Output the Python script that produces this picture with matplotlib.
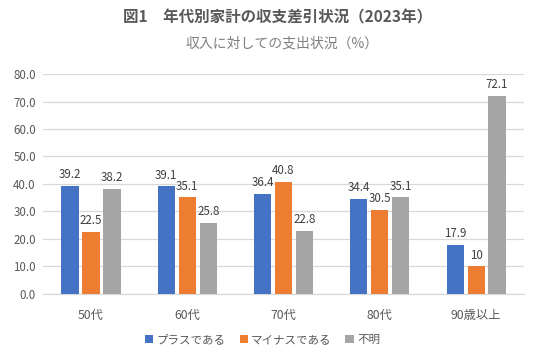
import numpy as np
import matplotlib
matplotlib.use("Agg")
import matplotlib.pyplot as plt

plt.rcParams["font.family"] = ["Noto Sans CJK JP", "DejaVu Sans"]

categories = ["50代", "60代", "70代", "80代", "90歳以上"]
plus_vals = [39.2, 39.1, 36.4, 34.4, 17.9]
minus_vals = [22.5, 35.1, 40.8, 30.5, 10]
unknown_vals = [38.2, 25.8, 22.8, 35.1, 72.1]
plus_labels = ["39.2", "39.1", "36.4", "34.4", "17.9"]
minus_labels = ["22.5", "35.1", "40.8", "30.5", "10"]
unknown_labels = ["38.2", "25.8", "22.8", "35.1", "72.1"]
series_names = ["プラスである", "マイナスである", "不明"]

COLORS = ["#4472C4", "#ED7D31", "#A5A5A5"]
TXT = "#595959"

fig = plt.figure(figsize=(5.36, 3.57), dpi=100)
ax = fig.add_axes([0.080, 0.1765, 0.898, 0.6162])

x = np.arange(len(categories))
w = 0.178
step = 0.218
series = [(plus_vals, plus_labels), (minus_vals, minus_labels), (unknown_vals, unknown_labels)]
handles = []
for i, (vals, labs) in enumerate(series):
    bars = ax.bar(x + (i - 1) * step, vals, width=w, color=COLORS[i], zorder=3,
                  label=series_names[i])
    handles.append(bars)
    for b, lab in zip(bars, labs):
        ax.text(b.get_x() + b.get_width() / 2, b.get_height() + 1.8, lab,
                ha="center", va="bottom", fontsize=8.3, color="#404040")

ax.set_xlim(-0.5, len(categories) - 0.5)
ax.set_ylim(0, 80)
ax.set_yticks(np.arange(0, 81, 10))
ax.set_yticklabels([f"{v:.1f}" for v in np.arange(0, 81, 10)], fontsize=8.3, color=TXT)
ax.set_xticks(x)
ax.set_xticklabels(categories, fontsize=8.8, color=TXT)
ax.tick_params(axis="both", length=0)
ax.tick_params(axis="x", pad=11)
ax.tick_params(axis="y", pad=5)
ax.yaxis.grid(True, color="#D9D9D9", linewidth=0.9, zorder=0)
for s in ["top", "right", "left"]:
    ax.spines[s].set_visible(False)
ax.spines["bottom"].set_color("#D9D9D9")
ax.spines["bottom"].set_linewidth(0.9)

fig.text(0.517, 0.952, "図1　年代別家計の収支差引状況（2023年）", ha="center", va="center",
         fontsize=11.2, fontweight="bold", color=TXT)
fig.text(0.526, 0.878, "収入に対しての支出状況（%）", ha="center", va="center",
         fontsize=10, color="#7F7F7F")

fig.legend(handles=handles, loc="center", bbox_to_anchor=(0.49, 0.048), ncol=3,
           frameon=False, fontsize=8.3, handlelength=0.7, handleheight=0.7,
           handletextpad=0.3, columnspacing=1.2, labelcolor=TXT)

fig.savefig("out.png", dpi=100)
